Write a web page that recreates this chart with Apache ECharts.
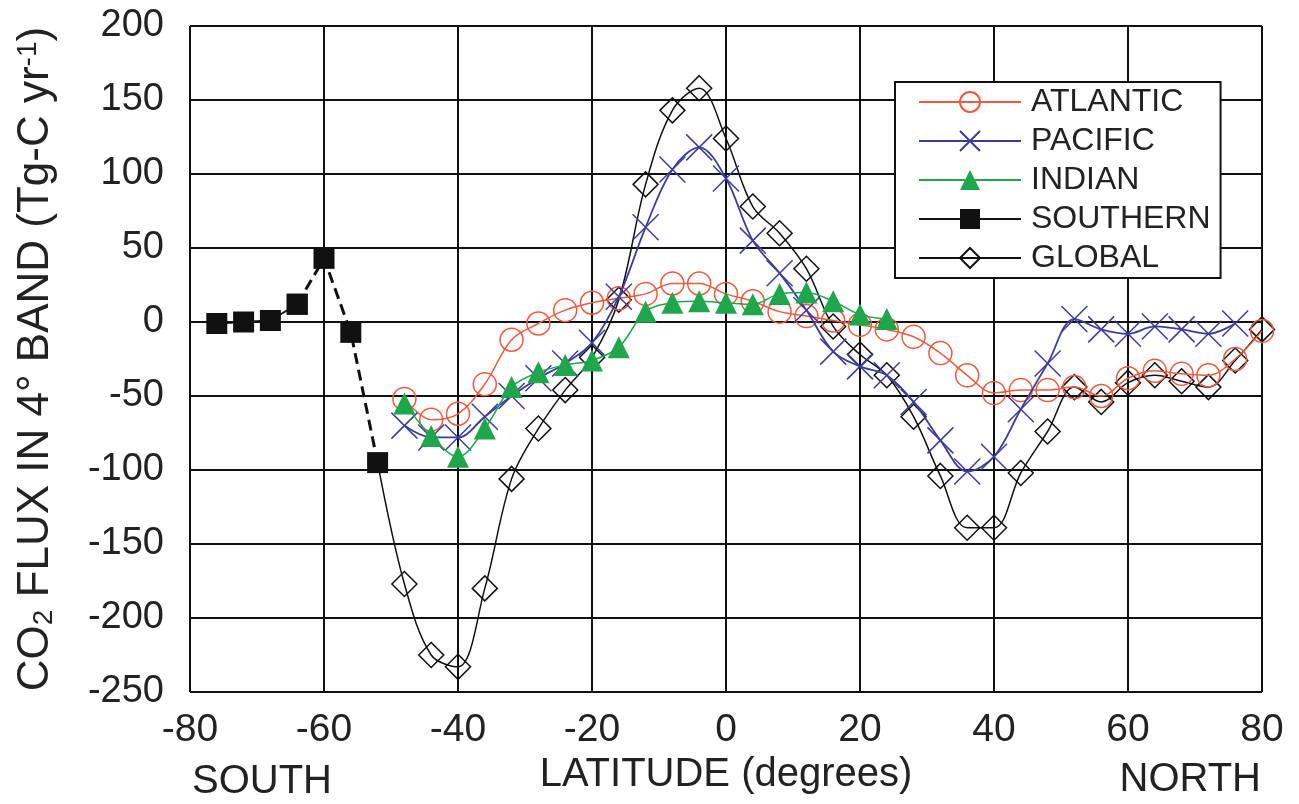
<!DOCTYPE html>
<html>
<head>
<meta charset="utf-8">
<script src="https://cdn.jsdelivr.net/npm/echarts@6/dist/echarts.min.js"></script>
<style>
html,body{margin:0;padding:0;background:#fff;}
#chart{width:1299px;height:804px;}
</style>
</head>
<body>
<div id="chart"></div>
<script>
// ---- data ----
const xTicks = [-80, -60, -40, -20, 0, 20, 40, 60, 80];
const yTicks = [-250, -200, -150, -100, -50, 0, 50, 100, 150, 200];

const atlanticLat = [-48,-44,-40,-36,-32,-28,-24,-20,-16,-12,-8,-4,0,4,8,12,16,20,24,28,32,36,40,44,48,52,56,60,64,68,72,76,80];
const atlantic    = [-52,-66,-62,-42,-12,-1,8,13,16,19,26,26,19,14,7,4,1,-2,-5,-10,-21,-36,-48,-46,-46,-44,-50,-38,-33,-35,-36,-25,-6];

const pacificLat = [-48,-44,-40,-36,-32,-28,-24,-20,-16,-12,-8,-4,0,4,8,12,16,20,24,28,32,36,40,44,48,52,56,60,64,68,72,76];
const pacific    = [-70,-78,-78,-64,-50,-38,-28,-14,17,64,103,118,97,55,33,8,-20,-30,-36,-54,-80,-101,-91,-59,-28,2,-5,-8,-3,-5,-8,-1];

const indianLat = [-48,-44,-40,-36,-32,-28,-24,-20,-16,-12,-8,-4,0,4,8,12,16,20,24];
const indian    = [-55,-77,-91,-72,-44,-34,-29,-26,-17,7,13,14,13,12,19,20,14,5,2];

const southernLat = [-76,-72,-68,-64,-60,-56,-52];
const southern    = [-1,0,1,12,43,-7,-95];

const globalLat = [-52,-48,-44,-40,-36,-32,-28,-24,-20,-16,-12,-8,-4,0,4,8,12,16,20,24,28,32,36,40,44,48,52,56,60,64,68,72,76,80];
const globalFlux = [-95,-177,-225,-233,-180,-106,-72,-46,-24,15,93,143,158,124,78,60,36,-3,-22,-36,-64,-104,-139,-139,-102,-74,-44,-54,-41,-36,-40,-44,-26,-5];

const legendNames = ['ATLANTIC', 'PACIFIC', 'INDIAN', 'SOUTHERN', 'GLOBAL'];

// ---- helpers ----
const pair = (lats, vals) => lats.map((x, i) => [x, vals[i]]);
const FONT = '"Liberation Sans", Arial, sans-serif';
const C_ATL = '#ee5a3e', C_PAC = '#3c3c9c', C_IND = '#1fa64b', C_BLK = '#111111';
const crossPath = 'path://M0 0L10 10M10 0L0 10';

const chart = echarts.init(document.getElementById('chart'), null, {renderer: 'canvas'});

const southernSolid = pair(southernLat, southern).slice(0, 4);
const southernDashed = pair(southernLat, southern).slice(3);
const globalData = pair(globalLat, globalFlux).map((p, i) => i === 0 ? {value: p, symbol: 'none'} : p);

const option = {
  animation: false,
  backgroundColor: '#ffffff',
  textStyle: {fontFamily: FONT},
  grid: {left: 190, right: 37, top: 26, bottom: 112, containLabel: false},
  xAxis: {
    type: 'value', min: xTicks[0], max: xTicks[xTicks.length - 1], interval: 20,
    name: 'LATITUDE (degrees)', nameLocation: 'middle', nameGap: 63,
    nameTextStyle: {fontSize: 40, color: '#222', fontFamily: FONT},
    axisLine: {show: true, lineStyle: {color: C_BLK, width: 2}},
    axisTick: {show: true, length: 10, lineStyle: {color: C_BLK, width: 2}},
    axisLabel: {fontSize: 39, color: '#222', margin: 19, fontFamily: FONT},
    splitLine: {show: true, lineStyle: {color: C_BLK, width: 2}}
  },
  yAxis: {
    type: 'value', min: yTicks[0], max: yTicks[yTicks.length - 1], interval: 50,
    name: 'CO{sub|2} FLUX IN 4° BAND (Tg-C yr{sup|-1})',
    nameLocation: 'middle', nameGap: 132, nameRotate: 90,
    nameTextStyle: {
      fontSize: 44, color: '#222', fontFamily: FONT, lineHeight: 44,
      rich: {
        sub: {fontSize: 28, fontFamily: FONT, color: '#222', verticalAlign: 'bottom', lineHeight: 22},
        sup: {fontSize: 28, fontFamily: FONT, color: '#222', verticalAlign: 'top', lineHeight: 22}
      }
    },
    axisLine: {show: true, lineStyle: {color: C_BLK, width: 2}},
    axisTick: {show: true, length: 10, lineStyle: {color: C_BLK, width: 2}},
    axisLabel: {fontSize: 38, color: '#222', margin: 26, fontFamily: FONT},
    splitLine: {show: true, lineStyle: {color: C_BLK, width: 2}}
  },
  legend: {
    data: legendNames,
    orient: 'vertical', left: 895, top: 82,
    padding: [4, 10, 4, 23],
    itemWidth: 102, itemHeight: 25, itemGap: 7,
    backgroundColor: '#ffffff', borderColor: C_BLK, borderWidth: 2, borderRadius: 0,
    textStyle: {fontSize: 32, color: '#222', fontFamily: FONT, lineHeight: 32, padding: [0, 0, 0, 5]},
    selectedMode: false
  },
  graphic: [
    {type: 'text', x: 192, y: 782, style: {text: 'SOUTH', fontSize: 40, fontFamily: FONT, fill: '#222', align: 'left', verticalAlign: 'middle'}},
    {type: 'text', x: 1261, y: 780, style: {text: 'NORTH', fontSize: 40, fontFamily: FONT, fill: '#222', align: 'right', verticalAlign: 'middle'}}
  ],
  series: [
    {
      name: 'GLOBAL', type: 'line', data: globalData, smooth: 0.35,
      symbol: 'diamond', symbolSize: 25,
      lineStyle: {color: C_BLK, width: 1.5},
      itemStyle: {color: 'rgba(255,255,255,0)', borderColor: C_BLK, borderWidth: 1.5},
      z: 2
    },
    {
      name: 'ATLANTIC', type: 'line', data: pair(atlanticLat, atlantic), smooth: 0.35,
      symbol: 'circle', symbolSize: 23,
      lineStyle: {color: C_ATL, width: 1.5},
      itemStyle: {color: 'rgba(255,255,255,0)', borderColor: C_ATL, borderWidth: 1.5},
      z: 3
    },
    {
      name: 'PACIFIC', type: 'line', data: pair(pacificLat, pacific), smooth: 0.35,
      symbol: crossPath, symbolSize: 26,
      lineStyle: {color: C_PAC, width: 1.8},
      itemStyle: {color: 'rgba(255,255,255,0)', borderColor: C_PAC, borderWidth: 1.5},
      z: 4
    },
    {
      name: 'INDIAN', type: 'line', data: pair(indianLat, indian), smooth: 0.35,
      symbol: 'triangle', symbolSize: 22,
      lineStyle: {color: C_IND, width: 1.5},
      itemStyle: {color: C_IND},
      z: 5
    },
    {
      name: 'SOUTHERN', type: 'line', data: southernSolid, smooth: false,
      symbol: 'rect', symbolSize: 21,
      lineStyle: {color: C_BLK, width: 2},
      itemStyle: {color: C_BLK},
      z: 6
    },
    {
      name: 'SOUTHERN_dash', type: 'line', data: southernDashed, smooth: false,
      symbol: 'rect', symbolSize: 21,
      lineStyle: {color: C_BLK, width: 3, type: [11, 6]},
      itemStyle: {color: C_BLK},
      z: 6
    }
  ]
};
chart.setOption(option);
</script>
</body>
</html>
